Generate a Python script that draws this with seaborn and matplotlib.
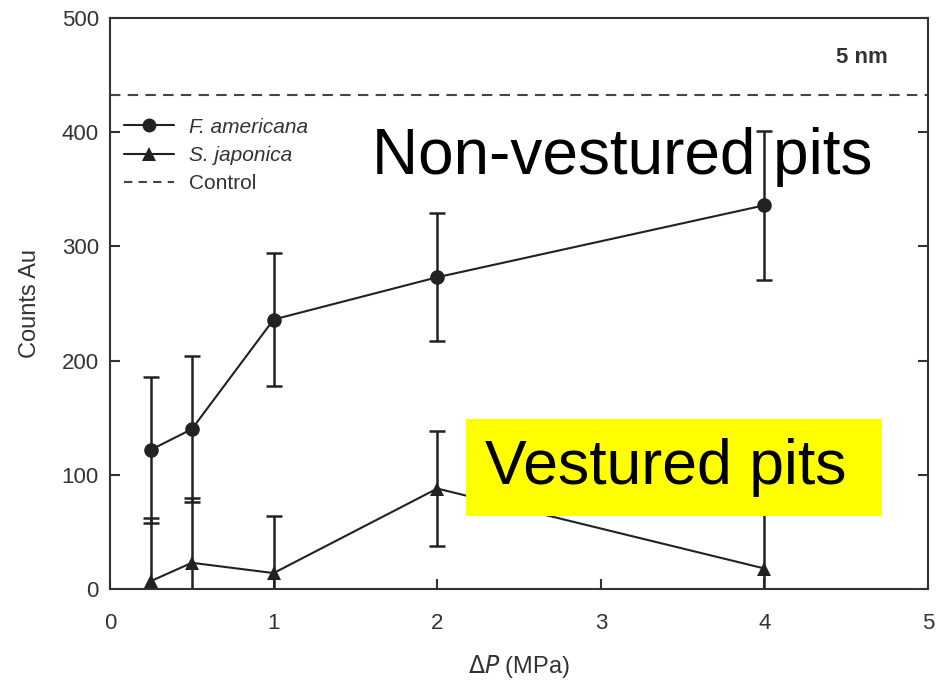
import numpy as np
import pandas as pd
import matplotlib
matplotlib.use("Agg")
import matplotlib.pyplot as plt
import seaborn as sns

# valores
presion = [0.25, 0.5, 1, 2, 4]
fam_counts = [122, 140, 236, 273, 336]
fam_err = [64, 64, 58, 56, 65]
sjap_counts = [7, 23, 14, 88, 18]
sjap_err = [55, 57, 50, 50, 52]
control = 433

x_ticks = [0, 1, 2, 3, 4, 5]
y_ticks = [0, 100, 200, 300, 400, 500]

sns.set_theme(style="ticks")
plt.rcParams["font.family"] = ["Liberation Sans", "DejaVu Sans"]

df = pd.DataFrame({
    "presion": presion * 2,
    "counts": fam_counts + sjap_counts,
    "especie": ["F. americana"] * 5 + ["S. japonica"] * 5,
})

fig = plt.figure(figsize=(9.42, 6.81), dpi=100)
ax = fig.add_axes([0.1168, 0.135, 0.8684, 0.8386])

ink = "#222222"
sns.lineplot(
    data=df, x="presion", y="counts", style="especie",
    markers={"F. americana": "o", "S. japonica": "^"},
    dashes=False, color=ink, linewidth=1.5, markersize=10.5,
    markeredgewidth=0, ax=ax, legend=False, zorder=3
)

ax.errorbar(presion, fam_counts, yerr=fam_err, fmt="none", ecolor=ink,
            elinewidth=1.8, capsize=6, capthick=1.8, zorder=2)
ax.errorbar(presion, sjap_counts, yerr=sjap_err, fmt="none", ecolor=ink,
            elinewidth=1.8, capsize=6, capthick=1.8, zorder=2)

ax.axhline(control, color="#444444", linewidth=1.5, dashes=(5, 3.5), zorder=1)

# leyenda
handles = [
    plt.Line2D([], [], color=ink, marker="o", markersize=10, lw=1.5, markeredgewidth=0),
    plt.Line2D([], [], color=ink, marker="^", markersize=10, lw=1.5, markeredgewidth=0),
    plt.Line2D([], [], color="#444444", lw=1.5, dashes=(4, 3)),
]
leg = ax.legend(handles, ["F. americana", "S. japonica", "Control"],
                loc="upper left", bbox_to_anchor=(0.007, 0.84), borderaxespad=0,
                frameon=False, fontsize=15, handlelength=2.4, labelspacing=0.45,
                handletextpad=0.7)
for t in leg.get_texts()[:2]:
    t.set_style("italic")
for t in leg.get_texts():
    t.set_color("#333333")

ax.text(4.755, 460.6, "5 nm", ha="right", va="baseline", fontsize=16,
        fontweight="bold", color="#333333")

ax.text(1.60, 363, "Non-vestured pits", ha="left", va="baseline",
        fontsize=46, color="black", zorder=6)
ax.text(2.29, 92, "Vestured pits ", ha="left", va="baseline",
        fontsize=45, color="black", zorder=6,
        bbox=dict(boxstyle="square,pad=0.3", facecolor="#ffff00", edgecolor="none"))

ax.set_xlim(0, 5)
ax.set_ylim(0, 500)
ax.set_xticks(x_ticks)
ax.set_yticks(y_ticks)
ax.set_xlabel(r"$\Delta\mathit{P}$ (MPa)", fontsize=17, color="#333333", labelpad=14)
ax.set_ylabel("Counts Au", fontsize=17, color="#333333", labelpad=15)

for s in ax.spines.values():
    s.set_visible(True)
    s.set_color("#333333")
    s.set_linewidth(1.5)
ax.tick_params(axis="both", direction="in", length=7, width=1.5,
               color="#333333", labelsize=16, labelcolor="#333333")
ax.tick_params(axis="x", pad=17)
ax.tick_params(axis="y", pad=8, right=True)

fig.savefig("out.png", dpi=100)
